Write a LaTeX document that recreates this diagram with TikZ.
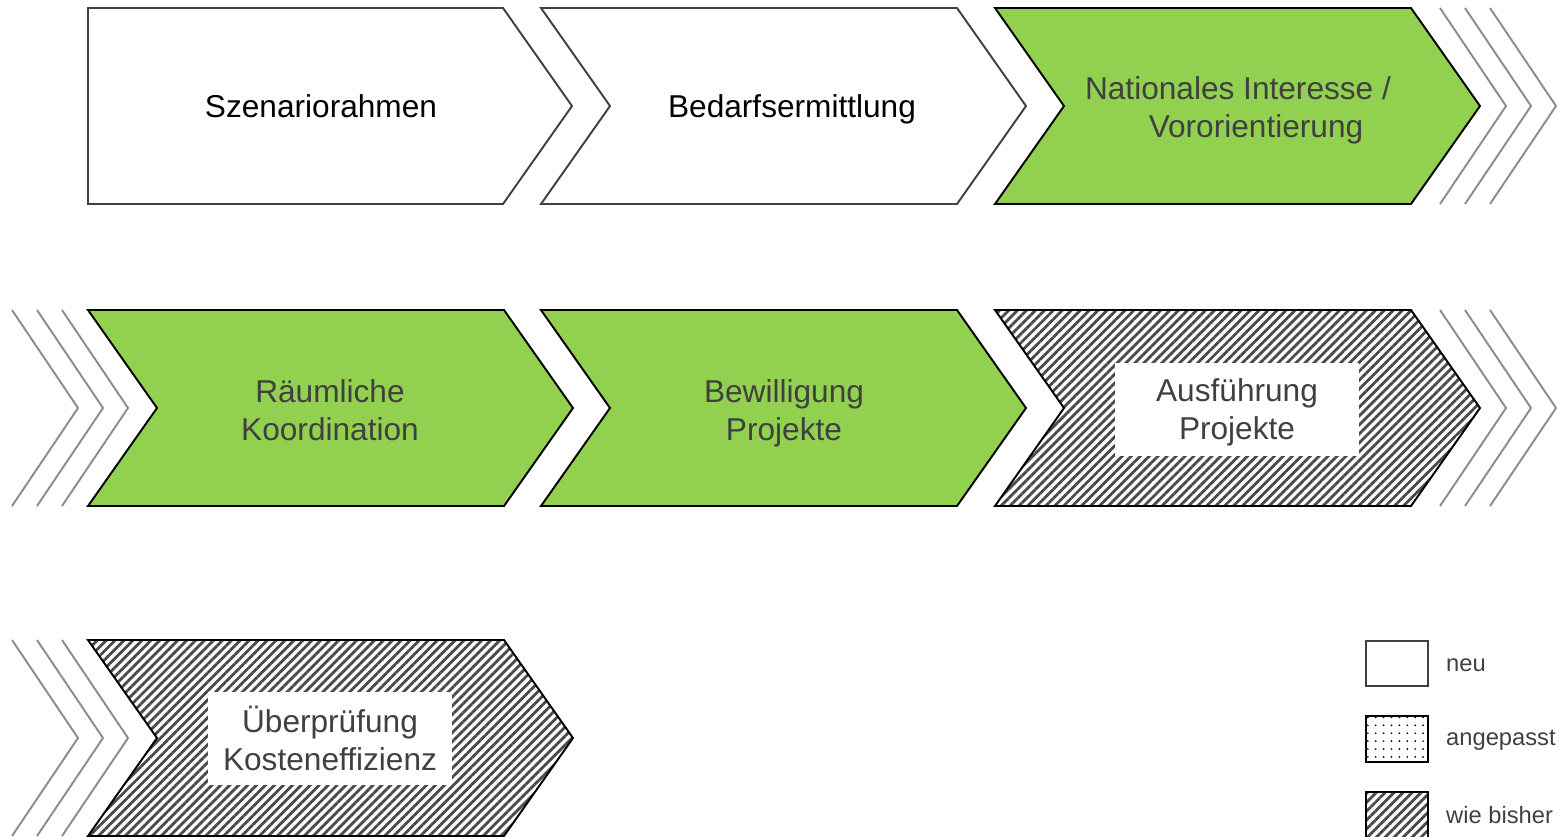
\documentclass[tikz,border=0pt]{standalone}
\usepackage{fontspec}
\setmainfont{Liberation Sans}
\usetikzlibrary{patterns.meta}

\definecolor{procgreen}{HTML}{92D050}
\definecolor{textgray}{HTML}{404040}
\definecolor{rimgray}{HTML}{8C8C8C}
\definecolor{hatchgray}{HTML}{4A4A4A}

\tikzset{
  neu/.style={draw=textgray, line width=1.1pt, fill=white},
  gruen/.style={draw=black, line width=1.1pt, fill=procgreen},
  bisher/.style={draw=black, line width=1.1pt,
    pattern={Lines[angle=45,distance=3.6pt,line width=1.6pt]}, pattern color=hatchgray},
  angepasst/.style={draw=black, line width=1.1pt,
    pattern={Dots[distance=4.5pt,radius=0.55pt]}, pattern color=black},
  vorlauf/.style={draw=rimgray, line width=1.1pt},
  schritt/.style={font=\fontsize{18}{21.6}\selectfont, align=center, text=textgray, text depth=0pt},
  schild/.style={schritt, fill=white, minimum width=4.9cm, minimum height=1.86cm},
  legende/.style={font=\fontsize{13.5}{16}\selectfont, text=textgray, anchor=west},
}

% first step: flat left side
\newcommand{\kopf}[3]{\draw[#3] (#1,#2) -- ++(415,0) -- ++(69,98) -- ++(-69,98) -- ++(-415,0) -- cycle;}
% following steps: notched left side
\newcommand{\glied}[3]{\draw[#3] (#1,#2) -- ++(416,0) -- ++(69,98) -- ++(-69,98) -- ++(-416,0) -- ++(69,-98) -- cycle;}
% three open chevrons
\newcommand{\weiter}[2]{\foreach \d in {0,25,50} \draw[vorlauf] (#1+\d,#2) -- ++(66,98) -- ++(-66,98);}

\begin{document}
\begin{tikzpicture}[x=0.02cm, y=-0.02cm]
        \useasboundingbox (0,0) rectangle (1559,836);

        % row 1
        \kopf{88}{8}{neu}
        \glied{541}{8}{neu}
        \glied{995}{8}{gruen}
        \weiter{1440}{8}
        \node[schritt, text=black] (szenario) at (321,106) {Szenariorahmen};
        \node[schritt, text=black] (bedarf) at (792,106) {Bedarfsermittlung};
        \node[schritt] (national) at (1238,107) {Nationales Interesse /\\\hspace*{0.72cm}Vororientierung};

        % row 2
        \weiter{12}{310}
        \glied{88}{310}{gruen}
        \glied{541}{310}{gruen}
        \glied{995}{310}{bisher}
        \weiter{1440}{310}
        \node[schritt] (raeumlich) at (330,410) {Räumliche\\Koordination};
        \node[schritt] (bewilligung) at (784,410) {Bewilligung\\Projekte};
        \node[schild] (ausfuehrung) at (1237,409) {Ausführung\\Projekte};

        % row 3
        \weiter{12}{640}
        \glied{88}{640}{bisher}
        \node[schild] (ueberpruefung) at (330,738) {Überprüfung\\Kosteneffizienz};

        % legend
        \draw[neu] (1366,641) rectangle (1428,686);
        \draw[angepasst] (1366,716) rectangle (1428,762);
        \draw[bisher] (1366,792) rectangle (1428,842);
        \node[legende] (l-neu) at (1440,665) {neu};
        \node[legende] (l-angepasst) at (1440,740) {angepasst};
        \node[legende] (l-bisher) at (1440,815) {wie bisher};
\end{tikzpicture}
\end{document}
